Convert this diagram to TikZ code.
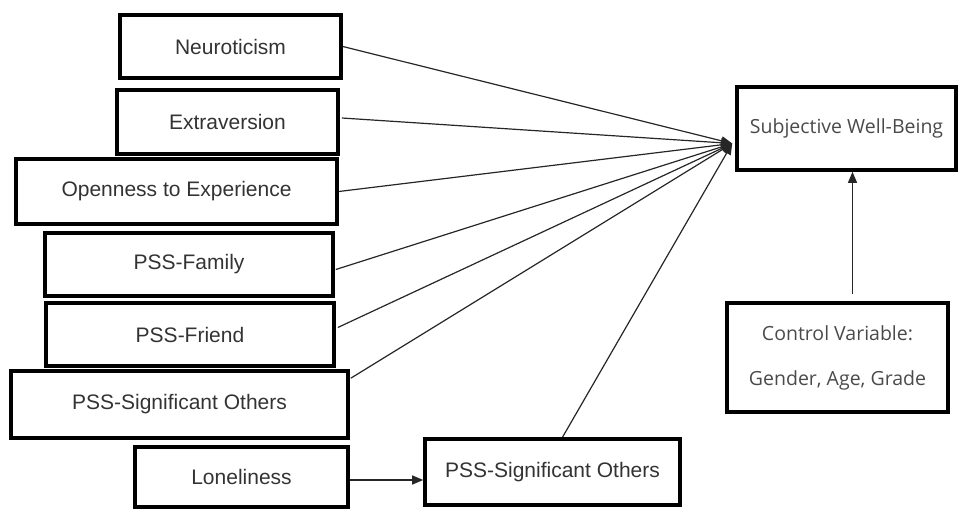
\documentclass[tikz,border=0pt]{standalone}
\usepackage{fontspec}
\newfontfamily\leftfont{Liberation Sans}
\newfontfamily\rightfont{Open Sans}
\usetikzlibrary{arrows.meta,calc}
\definecolor{txtL}{HTML}{333333}
\definecolor{txtR}{HTML}{4A4A4A}
\tikzset{
  vbox/.style={draw=black, line width=3.6pt, rectangle, inner sep=0pt, text=txtL,
    font=\leftfont\fontsize{21}{24}\selectfont},
  rbox/.style={vbox, text=txtR, font=\rightfont\fontsize{19.5}{45}\selectfont, align=center},
  link/.style={line width=1.2pt, draw=black!85},
  arr/.style={link, -{Triangle[length=11pt,width=9pt]}}
}
\newcommand{\dn}[1]{\raisebox{-3pt}{#1}}
\begin{document}
\begin{tikzpicture}[x=1pt,y=-1pt]
\useasboundingbox (0,0) rectangle (959,509);
\node[vbox, minimum width=221pt, minimum height=63pt] (neu) at (230.5,46.5) {\dn{Neuroticism}};
\node[vbox, minimum width=221pt, minimum height=64pt] (ext) at (227.5,122) {\dn{Extraversion}};
\node[vbox, minimum width=321pt, minimum height=65pt] (ope) at (176.5,191.5) {\dn{Openness to Experience}};
\node[vbox, minimum width=288pt, minimum height=63pt] (fam) at (189,264.5) {\dn{PSS-Family}};
\node[vbox, minimum width=288pt, minimum height=63pt] (fri) at (190,334.5) {\dn{PSS-Friend}};
\node[vbox, minimum width=337pt, minimum height=67pt] (sig) at (179.5,404.5) {\dn{PSS-Significant Others}};
\node[vbox, minimum width=213pt, minimum height=60pt] (lon) at (241.5,477) {\dn{Loneliness}};
\node[vbox, minimum width=255pt, minimum height=66pt] (sigb) at (552.5,472) {PSS-Significant Others};
\node[rbox, minimum width=219pt, minimum height=83pt] (swb) at (846.5,128.5) {\raisebox{4pt}{Subjective Well-Being}};
\node[rbox, minimum width=221pt, minimum height=109pt] (ctl) at (837.5,357.5) {Control Variable:\\Gender, Age, Grade};
\coordinate (tip) at ($(swb.west)+(-3,15)$);
\draw[arr] (neu.east) -- (tip);
\draw[arr] ($(ext.east)+(2,-4)$) -- (tip);
\draw[arr] (ope.east) -- (tip);
\draw[arr] ($(fam.east)+(1,5)$) -- (tip);
\draw[arr] ($(fri.east)+(2,-7)$) -- (tip);
\draw[arr] ($(sig.north east)+(1,9)$) -- (tip);
\draw[arr] ($(sigb.north)+(10,0)$) -- (tip);
\coordinate (cstart) at ($(ctl.north)+(15,-7)$);
\draw[arr] (cstart) -- (cstart |- swb.south);
\coordinate (lstart) at ($(lon.east)+(0,3)$);
\draw[arr] (lstart) -- (lstart -| sigb.west);
\end{tikzpicture}
\end{document}
